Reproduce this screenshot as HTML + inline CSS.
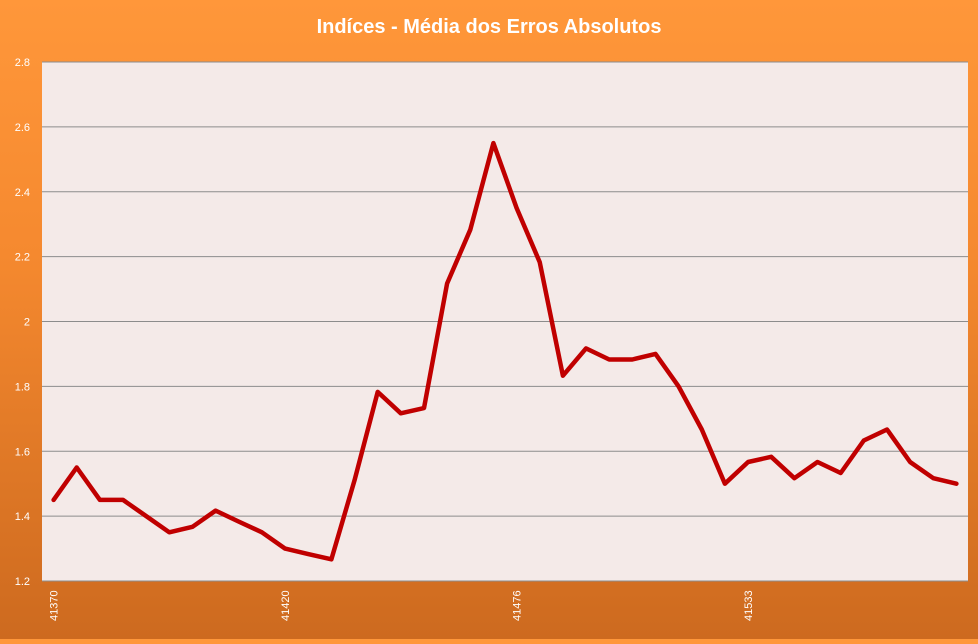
<!DOCTYPE html>
<html><head><meta charset="utf-8"><style>
html,body{margin:0;padding:0}
body{width:978px;height:639px;overflow:hidden;background:linear-gradient(#ff973a,#f5892f 40%,#cd6a1f);font-family:"Liberation Sans",sans-serif}
</style></head><body>
<svg id="chart" width="978" height="639" xmlns="http://www.w3.org/2000/svg">
<text x="489" y="33" text-anchor="middle" fill="#fff" font-size="20" font-weight="bold" font-family="Liberation Sans, sans-serif">Indíces - Média dos Erros Absolutos</text>
<rect x="42" y="62" width="926" height="519" fill="#f4eae8"/>
<g id="grid"></g><g id="yt"></g><g id="xt"></g><g id="series"></g>
</svg>
<script>
const categories=[41370,41371,41372,41373,41374,41375,41376,41377,41378,41379,41420,41421,41422,41423,41424,41425,41426,41427,41428,41429,41476,41477,41478,41479,41480,41481,41482,41483,41484,41485,41533,41534,41535,41536,41537,41538,41539,41540,41541,41542];
const values=[1.45,1.55,1.45,1.45,1.40,1.35,1.367,1.417,1.383,1.35,1.30,1.283,1.267,1.51,1.783,1.717,1.733,2.117,2.283,2.55,2.35,2.183,1.833,1.917,1.883,1.883,1.90,1.80,1.667,1.50,1.567,1.583,1.517,1.567,1.533,1.633,1.667,1.567,1.517,1.50];
const yTicks=[1.2,1.4,1.6,1.8,2,2.2,2.4,2.6,2.8];
const xLabelIdx=[0,10,20,30];
const NS="http://www.w3.org/2000/svg";
const L=42,R=968,T=62,B=581,yMin=1.2,yMax=2.8;
const step=(R-L)/categories.length;
const xs=i=>L+step*(i+0.5);
const ys=v=>B-(v-yMin)/(yMax-yMin)*(B-T);
function mk(t,a,p){const e=document.createElementNS(NS,t);for(const k in a)e.setAttribute(k,a[k]);p.appendChild(e);return e;}
const grid=document.getElementById('grid'),yt=document.getElementById('yt'),xt=document.getElementById('xt'),ser=document.getElementById('series');
yTicks.forEach(v=>{
 const y=ys(v);
 const g=mk('line',{x1:L,x2:R,y1:y,y2:y,stroke:'#8c8c8c','stroke-width':1},grid);
 
 
 const t=mk('text',{x:30,y:y+4,'text-anchor':'end',fill:'#fff','font-size':11},yt);
 t.textContent=String(v);
 
 
});
xLabelIdx.forEach(i=>{
 const x=xs(i);
 const t=mk('text',{x:0,y:0,transform:`translate(${x+4},${B+40}) rotate(-90)`,fill:'#fff','font-size':11},xt);
 t.textContent=String(categories[i]);
 
 
});
const pts=values.map((v,i)=>xs(i).toFixed(1)+','+ys(v).toFixed(1)).join(' ');
const pl=mk('polyline',{points:pts,fill:'none',stroke:'#c00000','stroke-width':4.5,'stroke-linejoin':'round','stroke-linecap':'round'},ser);


</script>
</body></html>
